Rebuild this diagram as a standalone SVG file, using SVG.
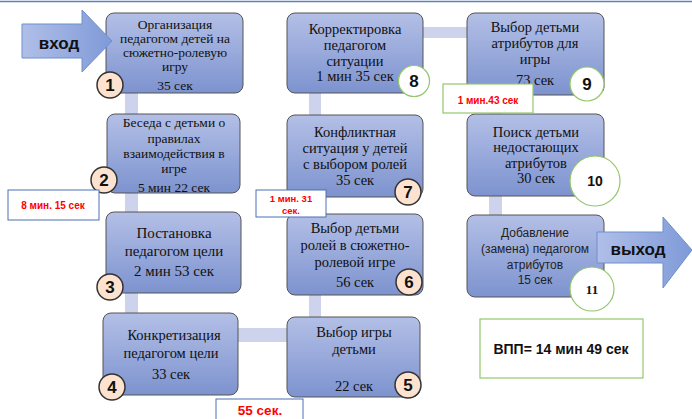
<svg xmlns="http://www.w3.org/2000/svg" width="692" height="419" viewBox="0 0 692 419">
<defs>
<linearGradient id="ng" x1="0" y1="0" x2="0" y2="1">
<stop offset="0" stop-color="#b3bfe6"/>
<stop offset="1" stop-color="#7d93cf"/>
</linearGradient>
<linearGradient id="ag" x1="0" y1="0" x2="1" y2="0">
<stop offset="0" stop-color="#b0bfe8"/>
<stop offset="1" stop-color="#7f9ad8"/>
</linearGradient>
<style>
.node{fill:url(#ng);stroke:#555;stroke-width:1}
.t{font-family:"Liberation Serif",serif;font-size:13.5px;fill:#111;text-anchor:middle}
.ts{font-family:"Liberation Sans",sans-serif;font-size:12px;fill:#222;text-anchor:middle}
.bar{fill:#cdd3ec}
.cp{fill:#fde3cf;stroke:#333;stroke-width:1.5}
.cg{fill:#fff;stroke:#93c66d;stroke-width:1.2}
.n{font-family:"Liberation Sans",sans-serif;font-weight:bold;font-size:17px;fill:#111;text-anchor:middle}
.red{font-family:"Liberation Sans",sans-serif;font-weight:bold;fill:#f00;text-anchor:middle}
.lbB{fill:#fff;stroke:#4a6fb5;stroke-width:1}
.lbG{fill:#fff;stroke:#93c66d;stroke-width:1.2}
.arr{fill:url(#ag);stroke:#6f8fcc;stroke-width:1}
.big{font-family:"Liberation Sans",sans-serif;font-weight:bold;font-size:17px;fill:#111;text-anchor:middle}
</style>
</defs>
<line x1="0" y1="1.5" x2="692" y2="1.5" stroke="#5b7fc4" stroke-width="1.5"/>
<g id="connectors">
<rect class="bar" x="125" y="90" width="13" height="230"/>
<rect class="bar" x="236" y="328" width="54" height="14"/>
<rect class="bar" x="309" y="90" width="12" height="230"/>
<rect class="bar" x="420" y="27" width="50" height="11"/>
<rect class="bar" x="489" y="90" width="13" height="130"/>
</g>
<g id="node1">
<rect class="node" x="106" y="13" width="137" height="80" rx="8"/>
<text class="t" x="175" y="29">Организация</text>
<text class="t" x="175" y="43">педагогом детей на</text>
<text class="t" x="175" y="57">сюжетно-ролевую</text>
<text class="t" x="175" y="71">игру</text>
<text class="t" x="175" y="90">35 сек</text>
</g>
<g id="node2">
<rect class="node" x="107" y="114" width="133" height="79" rx="8"/>
<text class="t" x="174" y="127">Беседа с детьми о</text>
<text class="t" x="174" y="143">правилах</text>
<text class="t" x="174" y="158">взаимодействия в</text>
<text class="t" x="174" y="173">игре</text>
<text class="t" x="174" y="192">5 мин 22 сек</text>
</g>
<g id="node3">
<rect class="node" x="106" y="212" width="135" height="81" rx="8"/>
<text class="t" x="174" y="238" style="font-size:15px">Постановка</text>
<text class="t" x="174" y="256" style="font-size:15px">педагогом цели</text>
<text class="t" x="174" y="276" style="font-size:15px">2 мин 53 сек</text>
</g>
<g id="node4">
<rect class="node" x="103" y="313" width="135" height="82" rx="8"/>
<text class="t" x="174" y="340" style="font-size:14.5px">Конкретизация</text>
<text class="t" x="171" y="358" style="font-size:14.5px">педагогом цели</text>
<text class="t" x="171" y="379" style="font-size:14.5px">33 сек</text>
</g>
<g id="node5">
<rect class="node" x="287" y="317" width="133" height="80" rx="8"/>
<text class="t" x="354" y="337" style="font-size:14.5px">Выбор игры</text>
<text class="t" x="354" y="354" style="font-size:14.5px">детьми</text>
<text class="t" x="354" y="391" style="font-size:14.5px">22 сек</text>
</g>
<g id="node6">
<rect class="node" x="287" y="214" width="136" height="81" rx="8"/>
<text class="t" x="355" y="233" style="font-size:14.5px">Выбор детьми</text>
<text class="t" x="355" y="250" style="font-size:14.5px">ролей в сюжетно-</text>
<text class="t" x="355" y="267" style="font-size:14.5px">ролевой игре</text>
<text class="t" x="355" y="287" style="font-size:14.5px">56 сек</text>
</g>
<g id="node7">
<rect class="node" x="287" y="115" width="136" height="82" rx="8"/>
<text class="t" x="355" y="137" style="font-size:14.5px">Конфликтная</text>
<text class="t" x="355" y="153" style="font-size:14.5px">ситуация у детей</text>
<text class="t" x="355" y="169" style="font-size:14.5px">с выбором ролей</text>
<text class="t" x="355" y="185" style="font-size:14.5px">35 сек</text>
</g>
<g id="node8">
<rect class="node" x="287" y="13" width="136" height="80" rx="8"/>
<text class="t" x="355" y="34" style="font-size:14.5px">Корректировка</text>
<text class="t" x="355" y="50" style="font-size:14.5px">педагогом</text>
<text class="t" x="355" y="66" style="font-size:14.5px">ситуации</text>
<text class="t" x="355" y="81" style="font-size:14.5px">1 мин 35 сек</text>
</g>
<g id="node9">
<rect class="node" x="467" y="13" width="137" height="82" rx="8"/>
<text class="t" x="535" y="32" style="font-size:14.5px">Выбор детьми</text>
<text class="t" x="535" y="48" style="font-size:14.5px">атрибутов для</text>
<text class="t" x="535" y="64" style="font-size:14.5px">игры</text>
<text class="t" x="535" y="85" style="font-size:14.5px">73 сек</text>
</g>
<g id="node10">
<rect class="node" x="467" y="114" width="137" height="82" rx="8"/>
<text class="t" x="536" y="137" style="font-size:14.5px">Поиск детьми</text>
<text class="t" x="536" y="152" style="font-size:14.5px">недостающих</text>
<text class="t" x="536" y="168" style="font-size:14.5px">атрибутов</text>
<text class="t" x="536" y="183" style="font-size:14.5px">30 сек</text>
</g>
<g id="node11">
<rect class="node" x="467" y="215" width="137" height="82" rx="8"/>
<text class="ts" x="535" y="237">Добавление</text>
<text class="ts" x="535" y="253">(замена) педагогом</text>
<text class="ts" x="535" y="269">атрибутов</text>
<text class="ts" x="535" y="284">15 сек</text>
</g>
<g id="entry">
<path class="arr" d="M22,24 H82 V10 L112,41 L82,72 V58 H22 Z"/>
<text class="big" x="59" y="49">вход</text>
</g>
<g id="exit">
<path class="arr" d="M597,232 H663 V217 L692,250 L663,288 V263 H597 Z"/>
<text class="big" x="638" y="255">выход</text>
</g>
<g id="badges">
<circle class="cp" cx="110" cy="85" r="13"/><text class="n" x="110" y="91">1</text>
<circle class="cp" cx="104" cy="180" r="13"/><text class="n" x="104" y="186">2</text>
<circle class="cp" cx="110" cy="287" r="13"/><text class="n" x="110" y="293">3</text>
<circle class="cp" cx="112" cy="387" r="13"/><text class="n" x="112" y="393">4</text>
<circle class="cp" cx="408" cy="385" r="13"/><text class="n" x="408" y="391">5</text>
<circle class="cp" cx="409" cy="282" r="13"/><text class="n" x="409" y="288">6</text>
<circle class="cp" cx="408" cy="192" r="13"/><text class="n" x="408" y="198">7</text>
<circle class="cg" cx="414" cy="81" r="15.5"/><text class="n" x="414" y="87">8</text>
<circle class="cg" cx="587" cy="84" r="17"/><text class="n" x="587" y="90">9</text>
<circle class="cg" cx="595" cy="181" r="25"/><text class="n" x="595" y="186" style="font-size:14px">10</text>
<circle class="cg" cx="592" cy="289" r="22"/><text class="n" x="592" y="294" style="font-family:'Liberation Serif',serif;font-size:13px">11</text>
</g>
<g id="labels">
<rect class="lbB" x="8" y="190" width="91" height="30"/>
<text class="red" x="53" y="209" style="font-size:10px">8 мин. 15 сек</text>
<rect class="lbB" x="256" y="190" width="70" height="27"/>
<text class="red" x="291" y="202" style="font-size:9.5px">1 мин. 31</text>
<text class="red" x="291" y="214" style="font-size:9.5px">сек.</text>
<rect class="lbG" x="443" y="84" width="90" height="29"/>
<text class="red" x="488" y="104" style="font-size:10px">1 мин.43 сек</text>
<rect class="lbB" x="216" y="399" width="87" height="25"/>
<text class="red" x="260" y="415" style="font-size:13.5px">55 сек.</text>
<rect class="lbG" x="480" y="319" width="163" height="59"/>
<text class="big" x="561" y="354" style="font-size:14px">ВПП= 14 мин 49 сек</text>
</g>
</svg>
